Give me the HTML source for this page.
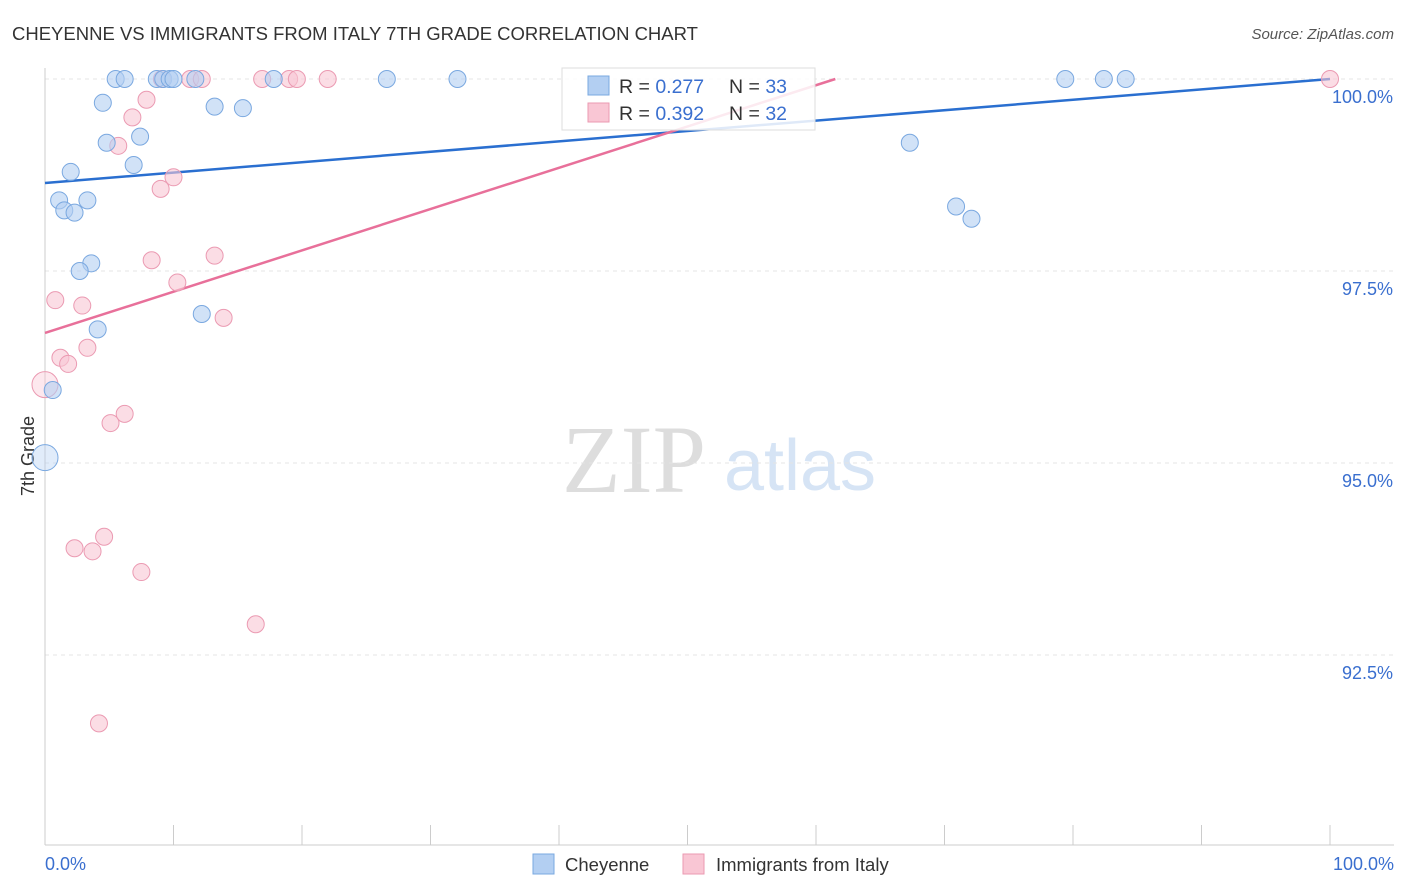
<!DOCTYPE html>
<html><head><meta charset="utf-8"><style>
body{margin:0;background:#fff;font-family:"Liberation Sans",sans-serif;}
#wrap{position:relative;width:1406px;height:892px;overflow:hidden;}
</style></head><body>
<div id="wrap">
<svg id="svg" width="1406" height="892" xmlns="http://www.w3.org/2000/svg">
<text x="12" y="40" font-size="18.5" fill="#333">CHEYENNE VS IMMIGRANTS FROM ITALY 7TH GRADE CORRELATION CHART</text>
<text x="1394" y="39" font-size="15" fill="#555" text-anchor="end" font-style="italic">Source: ZipAtlas.com</text>
<text x="634" y="492" font-size="96" fill="#ddd" text-anchor="middle" font-family="Liberation Serif">ZIP</text>
<text x="800" y="490" font-size="72" fill="#d6e4f5" text-anchor="middle">atlas</text>
<text x="34" y="456" font-size="18" fill="#333" text-anchor="middle" transform="rotate(-90 34 456)">7th Grade</text>
<g id="grid"></g><g id="ticks"></g><g id="lines"></g><g id="pts"></g>
<g>
<rect x="562" y="68" width="253" height="62" fill="#fff" fill-opacity="0.85" stroke="#ddd"/>
<rect x="588" y="76" width="21" height="19" fill="#b3cff2" stroke="#7aa8e0"/>
<text x="619" y="93" font-size="19.5" fill="#333">R = <tspan fill="#3a6fcf">0.277</tspan></text>
<text x="729" y="93" font-size="19.5" fill="#333">N = <tspan fill="#3a6fcf">33</tspan></text>
<rect x="588" y="103" width="21" height="19" fill="#f9c6d4" stroke="#eb9ab2"/>
<text x="619" y="120" font-size="19.5" fill="#333">R = <tspan fill="#3a6fcf">0.392</tspan></text>
<text x="729" y="120" font-size="19.5" fill="#333">N = <tspan fill="#3a6fcf">32</tspan></text>
</g>
<g>
<rect x="533" y="854" width="21" height="20" fill="#b3cff2" stroke="#7aa8e0"/>
<text x="565" y="871" font-size="18.5" fill="#333">Cheyenne</text>
<rect x="683" y="854" width="21" height="20" fill="#f9c6d4" stroke="#eb9ab2"/>
<text x="716" y="871" font-size="18.5" fill="#333">Immigrants from Italy</text>
</g>
<text x="45" y="870" font-size="18" fill="#3a6fcf">0.0%</text>
<text x="1394" y="870" font-size="18" fill="#3a6fcf" text-anchor="end">100.0%</text>
</svg>
<script>
const yTicks=[100,97.5,95,92.5];
const yTickLabels=["100.0%","97.5%","95.0%","92.5%"];
const cheyX=[5.5,6.2,8.7,9.2,9.7,10,11.7,17.8,26.6,32.1,79.4,82.4,84.1,4.5,13.2,15.4,7.4,4.8,6.9,2,67.3,1.1,3.3,1.5,2.3,70.9,72.1,3.6,2.7,4.1,12.2,0.6,0];
const cheyY=[100,100,100,100,100,100,100,100,100,100,100,100,100,99.69,99.64,99.62,99.25,99.17,98.88,98.79,99.17,98.42,98.42,98.29,98.26,98.34,98.18,97.6,97.5,96.74,96.94,95.95,95.07];
const italyX=[9.1,11.3,12.2,16.9,19,19.6,22,100,7.9,6.8,5.7,10,9,8.3,13.2,10.3,0.8,2.9,13.9,3.3,1.2,1.8,0,6.2,5.1,2.3,4.6,3.7,7.5,16.4,4.2];
const italyY=[100,100,100,100,100,100,100,100,99.73,99.5,99.13,98.72,98.57,97.64,97.7,97.35,97.12,97.05,96.89,96.5,96.37,96.29,96.02,95.64,95.52,93.89,94.04,93.85,93.58,92.9,91.61];
const cheyR=[98.646,100], italyR=[96.693,102.07];
const svg=document.getElementById('svg'),NS='http://www.w3.org/2000/svg';
const X=v=>45+v*12.85, Y=v=>79+(100-v)*76.8;
function mk(g,t,a){const e=document.createElementNS(NS,t);for(const k in a)e.setAttribute(k,a[k]);document.getElementById(g).appendChild(e);return e;}
yTicks.forEach((t,i)=>{
 const l=mk('grid','line',{x1:45,x2:1394,y1:Y(t),y2:Y(t),stroke:'#e4e4e4','stroke-dasharray':'4 4'});
 
 
 const tx=mk('grid','text',{x:1393,y:Y(t)+24,'font-size':18,fill:'#3a6fcf','text-anchor':'end'});
 tx.textContent=yTickLabels[i];
 
 
});
let a=mk('ticks','line',{x1:45,x2:45,y1:68,y2:845,stroke:'#ccc'});


a=mk('ticks','line',{x1:45,x2:1394,y1:845,y2:845,stroke:'#ccc'});


for(let i=0;i<=10;i++){const t=mk('ticks','line',{x1:X(i*10),x2:X(i*10),y1:825,y2:845,stroke:'#ccc'});
 
 }
function pts(xs,ys,fill,stroke,name){xs.forEach((x,i)=>{const big=x===0;const c=mk('pts','circle',{cx:X(x),cy:Y(ys[i]),r:big?13:8.5,fill:fill,'fill-opacity':big?0.4:0.6,stroke:stroke,'stroke-width':1});
 
 });}
pts(italyX,italyY,'#f9c6d4','#eb9ab2','point-italy');
pts(cheyX,cheyY,'#b3cff2','#7aa8e0','point-cheyenne');
let l=mk('lines','line',{x1:X(0),y1:Y(cheyR[0]),x2:X(100),y2:Y(cheyR[1]),stroke:'#2a6fd0','stroke-width':2.5});


const xe=(100-italyR[0])/(italyR[1]-italyR[0])*100;
l=mk('lines','line',{x1:X(0),y1:Y(italyR[0]),x2:X(xe),y2:Y(100),stroke:'#e8709a','stroke-width':2.5});


</script>
</div></body></html>
